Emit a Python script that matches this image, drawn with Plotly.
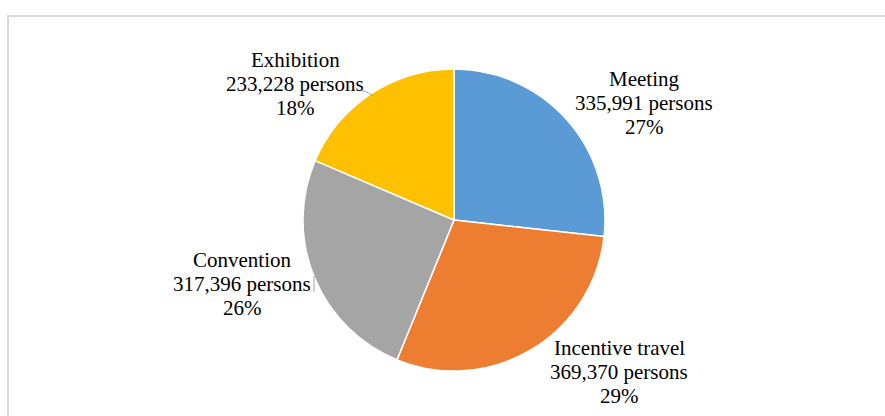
import plotly.graph_objects as go

# MICE visitor breakdown by segment
segments = ["Meeting", "Incentive travel", "Convention", "Exhibition"]
persons = [335991, 369370, 317396, 233228]
share_labels = ["27%", "29%", "26%", "18%"]
colors = ["#5B9BD5", "#ED7D31", "#A5A5A5", "#FFC000"]

# label anchor points (pixel coords in the 885x416 canvas, centre of the middle line)
W, H = 885, 416
label_pos = [(644, 103), (619, 372), (242, 284), (295, 84)]
line_gap = 24
font = dict(family="Liberation Serif, Times New Roman, serif", size=21, color="#000000")

# pie placement: centre (454, 220), radius 151 px
cx, cy, r = 454, 220, 151


def px_x(v):
    return v / W


def px_y(v):
    return 1 - v / H


fig = go.Figure(
    go.Pie(
        labels=segments,
        values=persons,
        sort=False,
        direction="clockwise",
        rotation=0,
        marker=dict(colors=colors, line=dict(color="#FFFFFF", width=1.5)),
        textinfo="none",
        hoverinfo="label+value+percent",
        showlegend=False,
        domain=dict(
            x=[px_x(cx - r), px_x(cx + r)],
            y=[px_y(cy + r), px_y(cy - r)],
        ),
    )
)

annotations = []
for name, val, share, (px, py) in zip(segments, persons, share_labels, label_pos):
    lines = [name, f"{val:,} persons", share]
    for i, txt in enumerate(lines):
        annotations.append(
            dict(
                text=txt,
                x=px_x(px),
                y=px_y(py),
                xref="paper",
                yref="paper",
                xanchor="center",
                yanchor="middle",
                yshift=(1 - i) * line_gap,
                showarrow=False,
                font=font,
            )
        )

# short leader lines joining the left-hand labels to their slices
leaders = [
    [(314, 292), (314, 276)],
    [(362, 91), (365, 91), (373, 96)],
]
shapes = [
    dict(
        type="rect",
        xref="paper",
        yref="paper",
        x0=px_x(8),
        x1=1.05,
        y0=-0.05,
        y1=px_y(16),
        line=dict(color="#D9D9D9", width=2),
        fillcolor="rgba(0,0,0,0)",
        layer="below",
    )
]
for pts in leaders:
    path = "M " + " L ".join(f"{px_x(x):.5f},{px_y(y):.5f}" for x, y in pts)
    shapes.append(
        dict(
            type="path",
            xref="paper",
            yref="paper",
            path=path,
            line=dict(color="#A6A6A6", width=1),
            layer="above",
        )
    )

fig.update_layout(
    width=W,
    height=H,
    margin=dict(l=0, r=0, t=0, b=0),
    paper_bgcolor="#FFFFFF",
    plot_bgcolor="#FFFFFF",
    annotations=annotations,
    shapes=shapes,
)

fig.write_html("out.html")
